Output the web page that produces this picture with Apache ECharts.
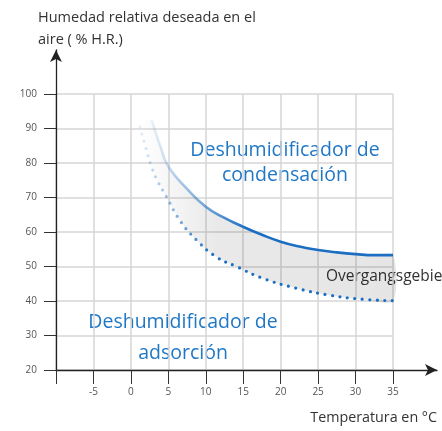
<!DOCTYPE html>
<html>
<head>
<meta charset="utf-8">
<script src="https://cdn.jsdelivr.net/npm/echarts@6/dist/echarts.min.js"></script>
<style>
  html, body { margin: 0; padding: 0; background: #fff; }
  #chart { width: 442px; height: 431px; }
</style>
</head>
<body>
<div id="chart"></div>
<script>
// 坐标轴刻度
const tempTicks = [-10, -5, 0, 5, 10, 15, 20, 25, 30, 35];
const rhTicks = [20, 30, 40, 50, 60, 70, 80, 90, 100];

// 冷凝除湿机下限 (实线)
const upperTemp = [2.75, 4, 5, 7.5, 10, 12.5, 15, 17.5, 20, 22.5, 25, 27.5, 30, 32.5, 35];
const upperRH = [92.5, 84.4, 79, 72.5, 67.3, 64.1, 61.5, 59.2, 57.2, 55.8, 54.8, 54.1, 53.6, 53.3, 53.3];

// 吸附除湿机上限 (点线)
const lowerTemp = [1.2, 2, 2.75, 3.5, 4.75, 6.5, 8.75, 11.4, 14.1, 17.6, 22.1, 26.5, 31, 35];
const lowerRH = [90.5, 84.3, 78.9, 75, 70.2, 63.5, 57.7, 52.8, 50, 46.6, 43.7, 41.7, 40.5, 40.1];

const upperData = upperTemp.map((t, i) => [t, upperRH[i]]);
const lowerData = lowerTemp.map((t, i) => [t, lowerRH[i]]);

const textBlue = '#1f77c6';
const font = '"Open Sans", "Noto Sans", sans-serif';
const gridColor = '#d6d6d6';

const chart = echarts.init(document.getElementById('chart'));

chart.setOption({
  animation: false,
  grid: [
    { left: 56, right: 49, top: 94, bottom: 61 },
    { left: 56, right: 5, top: 50, bottom: 61 } // 只画带箭头的轴线
  ],
  xAxis: [
    {
      type: 'value', gridIndex: 0,
      min: tempTicks[0], max: tempTicks[tempTicks.length - 1], interval: 5,
      axisLine: { show: false, onZero: false },
      axisTick: { show: true, length: 14, lineStyle: { color: '#333' } },
      axisLabel: {
        margin: 17, color: '#555', fontSize: 10, fontFamily: font,
        formatter: v => (v === tempTicks[0] ? '' : String(v))
      },
      splitLine: { show: true, lineStyle: { color: gridColor, width: 1.5 } }
    },
    {
      type: 'value', gridIndex: 1, min: 0, max: 1,
      axisLine: { show: true, onZero: false, symbol: ['none', 'arrow'], symbolSize: [9, 12], lineStyle: { color: '#222', width: 1.3 } },
      axisTick: { show: false }, axisLabel: { show: false }, splitLine: { show: false }
    }
  ],
  yAxis: [
    {
      type: 'value', gridIndex: 0,
      min: rhTicks[0], max: rhTicks[rhTicks.length - 1], interval: 10,
      axisLine: { show: false, onZero: false },
      axisTick: { show: true, length: 12, lineStyle: { color: '#333' } },
      axisLabel: { margin: 19, color: '#555', fontSize: 10, fontFamily: font },
      splitLine: { show: true, lineStyle: { color: gridColor, width: 1.5 } }
    },
    {
      type: 'value', gridIndex: 1, min: 0, max: 1,
      axisLine: { show: true, onZero: false, symbol: ['none', 'arrow'], symbolSize: [9, 12], lineStyle: { color: '#222', width: 1.3 } },
      axisTick: { show: false }, axisLabel: { show: false }, splitLine: { show: false }
    }
  ],
  series: [
    {
      // 过渡区域填充
      type: 'custom',
      xAxisIndex: 0, yAxisIndex: 0,
      z: 1,
      data: [[0, 0]],
      renderItem: (params, api) => {
        const pts = upperData.map(p => api.coord(p))
          .concat(lowerData.slice().reverse().map(p => api.coord(p)));
        return {
          type: 'polygon',
          shape: { points: pts, smooth: 0.3 },
          style: {
            fill: new echarts.graphic.LinearGradient(0, 0, 1, 0, [
              { offset: 0, color: 'rgba(0,0,0,0)' },
              { offset: 0.3, color: 'rgba(0,0,0,0.085)' },
              { offset: 1, color: 'rgba(0,0,0,0.1)' }
            ])
          }
        };
      }
    },
    {
      type: 'line', xAxisIndex: 0, yAxisIndex: 0,
      data: upperData, smooth: 0.5, showSymbol: false, z: 3,
      lineStyle: {
        width: 2.6,
        color: new echarts.graphic.LinearGradient(0, 0, 1, 0, [
          { offset: 0, color: 'rgba(27,110,194,0.06)' },
          { offset: 0.4, color: 'rgba(27,110,194,1)' },
          { offset: 1, color: 'rgba(27,110,194,1)' }
        ])
      }
    },
    {
      type: 'line', xAxisIndex: 0, yAxisIndex: 0,
      data: lowerData, smooth: true, showSymbol: false, z: 3,
      lineStyle: {
        width: 3.2, type: [0, 7.5], cap: 'round',
        color: new echarts.graphic.LinearGradient(0, 0, 1, 0, [
          { offset: 0, color: 'rgba(27,110,194,0.08)' },
          { offset: 0.3, color: 'rgba(27,110,194,1)' },
          { offset: 1, color: 'rgba(27,110,194,1)' }
        ])
      }
    }
  ],
  graphic: [
    { type: 'text', left: 38, top: 10, style: { text: 'Humedad relativa deseada en el', fontSize: 14.5, fontFamily: font, fill: '#333' } },
    { type: 'text', left: 38, top: 32, style: { text: 'aire ( % H.R.)', fontSize: 14.5, fontFamily: font, fill: '#333' } },
    { type: 'text', right: 5, top: 411, style: { text: 'Temperatura en °C', fontSize: 14.3, fontFamily: font, fill: '#333' } },
    { type: 'text', x: 285, y: 150, style: { text: 'Deshumidificador de', fontSize: 19.5, fontFamily: font, fill: textBlue, align: 'center', verticalAlign: 'middle' } },
    { type: 'text', x: 285, y: 175, style: { text: 'condensación', fontSize: 19.5, fontFamily: font, fill: textBlue, align: 'center', verticalAlign: 'middle' } },
    { type: 'text', x: 183, y: 322, style: { text: 'Deshumidificador de', fontSize: 19.5, fontFamily: font, fill: textBlue, align: 'center', verticalAlign: 'middle' } },
    { type: 'text', x: 183, y: 353, style: { text: 'adsorción', fontSize: 19.5, fontFamily: font, fill: textBlue, align: 'center', verticalAlign: 'middle' } },
    { type: 'text', x: 326, y: 277, style: { text: 'Overgangsgebied', fontSize: 15.5, fontFamily: font, fill: '#333', verticalAlign: 'middle' } }
  ]
});
</script>
</body>
</html>
